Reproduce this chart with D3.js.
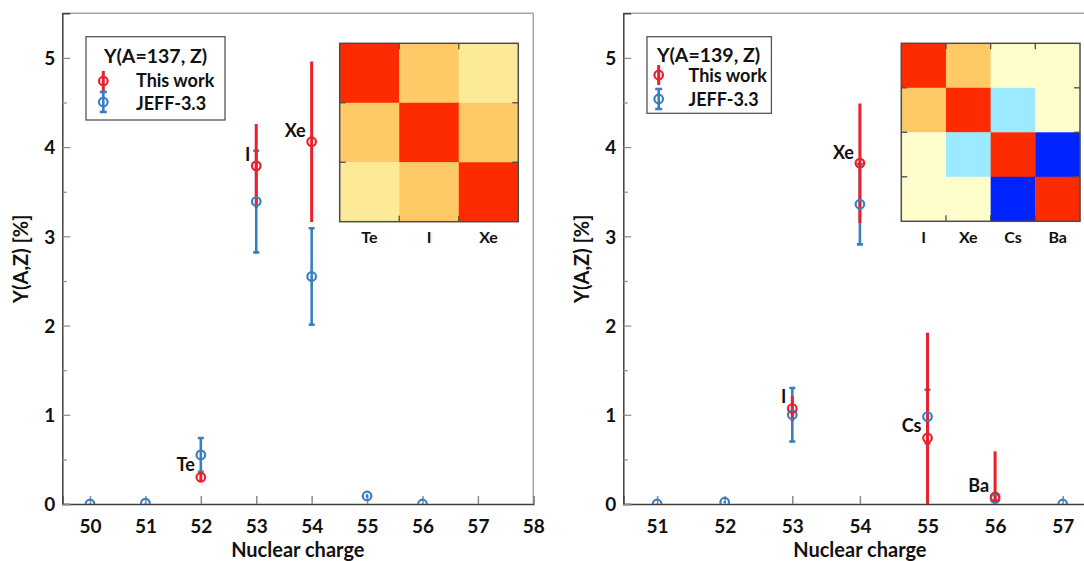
<!DOCTYPE html>
<html><head><meta charset="utf-8">
<script src="https://cdn.jsdelivr.net/npm/d3@7"></script>
<style>
body{margin:0;background:#fff}
svg{display:block}
text{font-family:Lato,"Open Sans",sans-serif;font-weight:700;fill:#111}
</style>
</head><body>
<svg id="c" width="1084" height="561"></svg>
<script>
// ---------- data: A = 137 ----------
const z137Jeff      = [50, 51, 52, 53, 54, 55, 56];
const jeff137       = [0.00, 0.01, 0.55, 3.39, 2.55, 0.09, 0.00];
const jeff137Err    = [0.005, 0.005, 0.19, 0.57, 0.54, 0.02, 0.005];
const z137Work      = [52, 53, 54];
const work137       = [0.30, 3.79, 4.06];
const work137Err    = [0.05, 0.47, 0.90];
const elem137       = ["Te", "I", "Xe"];
const elem137LabelY = [0.44, 3.92, 4.19];
const corr137 = [
  [1.00, 0.50, 0.25],
  [0.50, 1.00, 0.50],
  [0.25, 0.50, 1.00]
];
const xTicks137 = [50, 51, 52, 53, 54, 55, 56, 57, 58];

// ---------- data: A = 139 ----------
const z139Jeff      = [51, 52, 53, 54, 55, 56, 57];
const jeff139       = [0.00, 0.02, 1.00, 3.36, 0.98, 0.06, 0.00];
const jeff139Err    = [0.005, 0.01, 0.30, 0.45, 0.30, 0.02, 0.005];
const z139Work      = [53, 54, 55, 56];
const work139       = [1.07, 3.82, 0.74, 0.08];
const work139Err    = [0.14, 0.67, 1.18, 0.51];
const elem139       = ["I", "Xe", "Cs", "Ba"];
const elem139LabelY = [1.20, 3.94, 0.875, 0.21];
const corr139 = [
  [1.00, 0.50, 0.00, 0.00],
  [0.50, 1.00, -0.30, 0.00],
  [0.00, -0.30, 1.00, -1.00],
  [0.00, 0.00, -1.00, 1.00]
];
const xTicks139 = [51, 52, 53, 54, 55, 56, 57];

const yTicks = [0, 0.5, 1, 1.5, 2, 2.5, 3, 3.5, 4, 4.5, 5];
const seriesNames = ["This work", "JEFF-3.3"];

// ---------- styles ----------
const RED = "#e8212b", BLUE = "#3a7fc2";
const corrColor = d3.scaleLinear()
  .domain([-1, -0.3, 0, 0.25, 0.5, 1])
  .range(["#0024ff", "#9ceaff", "#fffdcc", "#fdea99", "#fdca66", "#ff2b00"]);

const svg = d3.select("#c");

function panel(cfg) {
  const g = svg.append("g");
  const x = d3.scaleLinear().domain(cfg.xDomain).range([cfg.x0, cfg.x1]);
  const y = d3.scaleLinear().domain([0, 5.5]).range([504, 13.3]);

  const clipId = "clip" + cfg.id;
  svg.append("clipPath").attr("id", clipId)
    .append("rect").attr("x", cfg.x0).attr("y", 13.3)
    .attr("width", cfg.x1 - cfg.x0).attr("height", 504 - 13.3);

  // frame (top/right light)
  g.append("line").attr("x1", cfg.x0).attr("x2", cfg.x1).attr("y1", 13.3).attr("y2", 13.3)
    .attr("stroke", "#a6a6a6").attr("stroke-width", 1.5);
  g.append("line").attr("x1", cfg.x1).attr("x2", cfg.x1).attr("y1", 13.3).attr("y2", 504)
    .attr("stroke", "#a6a6a6").attr("stroke-width", 1.5);

  // x axis
  const xa = g.append("g").attr("transform", "translate(0,504)")
    .call(d3.axisBottom(x).tickValues(cfg.xTicks).tickSize(-8).tickPadding(0).tickFormat(d3.format("d")));
  xa.select(".domain").attr("stroke", "#404040").attr("stroke-width", 1.5);
  xa.selectAll(".tick line").attr("stroke", "#8a8a8a").attr("stroke-width", 1.5);
  xa.selectAll(".tick text").attr("y", 28.7).attr("dy", null)
    .style("font-size", "19px").attr("fill", "#111");

  // y axis
  const ya = g.append("g").attr("transform", `translate(${cfg.x0},0)`)
    .call(d3.axisLeft(y).tickValues(yTicks).tickSize(-8).tickPadding(0)
      .tickFormat(d => Number.isInteger(d) ? d : ""));
  ya.select(".domain").attr("stroke", "#404040").attr("stroke-width", 1.5);
  ya.selectAll(".tick line").attr("stroke", "#8a8a8a").attr("stroke-width", 1.2)
    .attr("x2", d => Number.isInteger(d) ? 8 : 4.5);
  ya.selectAll(".tick text").attr("x", -7).attr("dy", "0.36em")
    .style("font-size", "19px").attr("fill", "#111");

  // axis titles
  g.append("text").attr("x", (cfg.x0 + cfg.x1) / 2).attr("y", 557)
    .attr("text-anchor", "middle").style("font-size", "20px").text("Nuclear charge");
  g.append("text").attr("transform", `translate(${cfg.x0 - 41.6},258.7) rotate(-90)`)
    .attr("text-anchor", "middle").attr("dy", "0.36em").style("font-size", "20px").text("Y(A,Z) [%]");

  // data layer
  const d = g.append("g").attr("clip-path", `url(#${clipId})`);
  const jeff = cfg.jeffZ.map((z, i) => ({z, v: cfg.jeff[i], e: cfg.jeffErr[i]}));
  const work = cfg.workZ.map((z, i) => ({z, v: cfg.work[i], e: cfg.workErr[i]}));

  // JEFF bars with caps
  const jb = d.append("g").attr("stroke", BLUE).attr("stroke-width", 2.6);
  jb.selectAll(".v").data(jeff).join("line")
    .attr("x1", p => x(p.z)).attr("x2", p => x(p.z))
    .attr("y1", p => y(p.v - p.e)).attr("y2", p => y(p.v + p.e));
  jb.selectAll(".ct").data(jeff.filter(p => p.e > 0.05)).join("line")
    .attr("x1", p => x(p.z) - 3).attr("x2", p => x(p.z) + 3)
    .attr("y1", p => y(p.v + p.e)).attr("y2", p => y(p.v + p.e));
  jb.append("g").selectAll("line").data(jeff.filter(p => p.e > 0.05)).join("line")
    .attr("x1", p => x(p.z) - 3).attr("x2", p => x(p.z) + 3)
    .attr("y1", p => y(p.v - p.e)).attr("y2", p => y(p.v - p.e));

  // this work bars
  d.append("g").attr("stroke", RED).attr("stroke-width", 3)
    .selectAll("line").data(work).join("line")
    .attr("x1", p => x(p.z)).attr("x2", p => x(p.z))
    .attr("y1", p => y(p.v - p.e)).attr("y2", p => y(p.v + p.e));

  d.append("g").selectAll("circle").data(jeff).join("circle")
    .attr("cx", p => x(p.z)).attr("cy", p => y(p.v)).attr("r", 4.3)
    .attr("fill", "none").attr("stroke", BLUE).attr("stroke-width", 2.2);
  d.append("g").selectAll("circle").data(work).join("circle")
    .attr("cx", p => x(p.z)).attr("cy", p => y(p.v)).attr("r", 4.3)
    .attr("fill", "none").attr("stroke", RED).attr("stroke-width", 2.2);

  // element labels
  g.append("g").selectAll("text").data(cfg.elems).join("text")
    .attr("x", (e, i) => x(cfg.workZ[i]) - 6)
    .attr("y", (e, i) => y(cfg.elemY[i]))
    .attr("dy", "0.36em").attr("text-anchor", "end").style("font-size", "18px").text(e => e);

  // legend
  const L = cfg.legend;
  const lg = g.append("g");
  lg.append("rect").attr("x", L.x).attr("y", L.y).attr("width", L.w).attr("height", L.h)
    .attr("fill", "#fff").attr("stroke", "#555").attr("stroke-width", 1.3);
  lg.append("text").attr("x", L.titleX).attr("y", L.titleY).attr("text-anchor", "middle")
    .style("font-size", "19.5px").text(cfg.title);
  const entries = seriesNames.map((n, i) => ({n, c: i === 0 ? RED : BLUE, cap: i === 1, my: L.my[i], ty: L.ty[i]}));
  const en = lg.selectAll(".en").data(entries).join("g");
  en.append("line").attr("x1", L.mx).attr("x2", L.mx)
    .attr("y1", e => e.my - 10).attr("y2", e => e.my + 10)
    .attr("stroke", e => e.c).attr("stroke-width", e => e.cap ? 2.6 : 3);
  en.filter(e => e.cap).selectAll("line.cap").data(e => [e.my - 10, e.my + 10]).join("line")
    .attr("x1", L.mx - 3.5).attr("x2", L.mx + 3.5).attr("y1", v => v).attr("y2", v => v)
    .attr("stroke", BLUE).attr("stroke-width", 2.6);
  en.append("circle").attr("cx", L.mx).attr("cy", e => e.my).attr("r", 4.3)
    .attr("fill", "none").attr("stroke", e => e.c).attr("stroke-width", 2.2);
  en.append("text").attr("x", L.tx).attr("y", e => e.ty).style("font-size", "18px").text(e => e.n);

  // correlation heatmap inset
  const H = cfg.heat;
  const hx = d3.scaleBand().domain(cfg.elems).range([H.x0, H.x1]);
  const hy = d3.scaleBand().domain(cfg.elems).range([H.y0, H.y1]);
  const cells = [];
  cfg.corr.forEach((row, i) => row.forEach((v, j) => cells.push({r: cfg.elems[i], c: cfg.elems[j], v})));
  const hg = g.append("g");
  hg.selectAll("rect").data(cells).join("rect")
    .attr("x", c => hx(c.c)).attr("y", c => hy(c.r))
    .attr("width", hx.bandwidth() + 0.3).attr("height", hy.bandwidth() + 0.3)
    .attr("fill", c => corrColor(c.v));
  hg.append("rect").attr("x", H.x0).attr("y", H.y0).attr("width", H.x1 - H.x0).attr("height", H.y1 - H.y0)
    .attr("fill", "none").attr("stroke", "#4d4d4d").attr("stroke-width", 1.5);
  const inner = cfg.elems.slice(1);
  const tk = hg.append("g").attr("stroke", "#4d4d4d").attr("stroke-width", 1.3);
  inner.forEach(e => {
    const xv = hx(e), yv = hy(e);
    tk.append("line").attr("x1", xv).attr("x2", xv).attr("y1", H.y0).attr("y2", H.y0 + 6);
    tk.append("line").attr("x1", xv).attr("x2", xv).attr("y1", H.y1).attr("y2", H.y1 - 6);
    tk.append("line").attr("x1", H.x0).attr("x2", H.x0 + 6).attr("y1", yv).attr("y2", yv);
    tk.append("line").attr("x1", H.x1).attr("x2", H.x1 - 6).attr("y1", yv).attr("y2", yv);
  });
  hg.selectAll("text").data(cfg.elems).join("text")
    .attr("x", e => hx(e) + hx.bandwidth() / 2).attr("y", 242.5)
    .attr("text-anchor", "middle").style("font-size", "16px").text(e => e);
}

panel({
  id: "L", title: "Y(A=137, Z)",
  x0: 62.3, x1: 533.3, xDomain: [49.5, 58], xTicks: xTicks137,
  jeffZ: z137Jeff, jeff: jeff137, jeffErr: jeff137Err,
  workZ: z137Work, work: work137, workErr: work137Err,
  elems: elem137, elemY: elem137LabelY, corr: corr137,
  legend: {x: 86, y: 36.7, w: 139, h: 83.3, titleX: 155.5, titleY: 63, mx: 103.3, my: [81, 102], tx: 136, ty: [87, 110]},
  heat: {x0: 339.7, x1: 518.3, y0: 43.3, y1: 221.7}
});
panel({
  id: "R", title: "Y(A=139, Z)",
  x0: 623.3, x1: 1096.5, xDomain: [50.5, 57.5], xTicks: xTicks139,
  jeffZ: z139Jeff, jeff: jeff139, jeffErr: jeff139Err,
  workZ: z139Work, work: work139, workErr: work139Err,
  elems: elem139, elemY: elem139LabelY, corr: corr139,
  legend: {x: 647, y: 36.7, w: 124.4, h: 76.6, titleX: 708.5, titleY: 62, mx: 658.7, my: [75, 99], tx: 688.5, ty: [82, 105.5]},
  heat: {x0: 901.3, x1: 1080, y0: 43.3, y1: 221.3}
});
</script>
</body></html>
